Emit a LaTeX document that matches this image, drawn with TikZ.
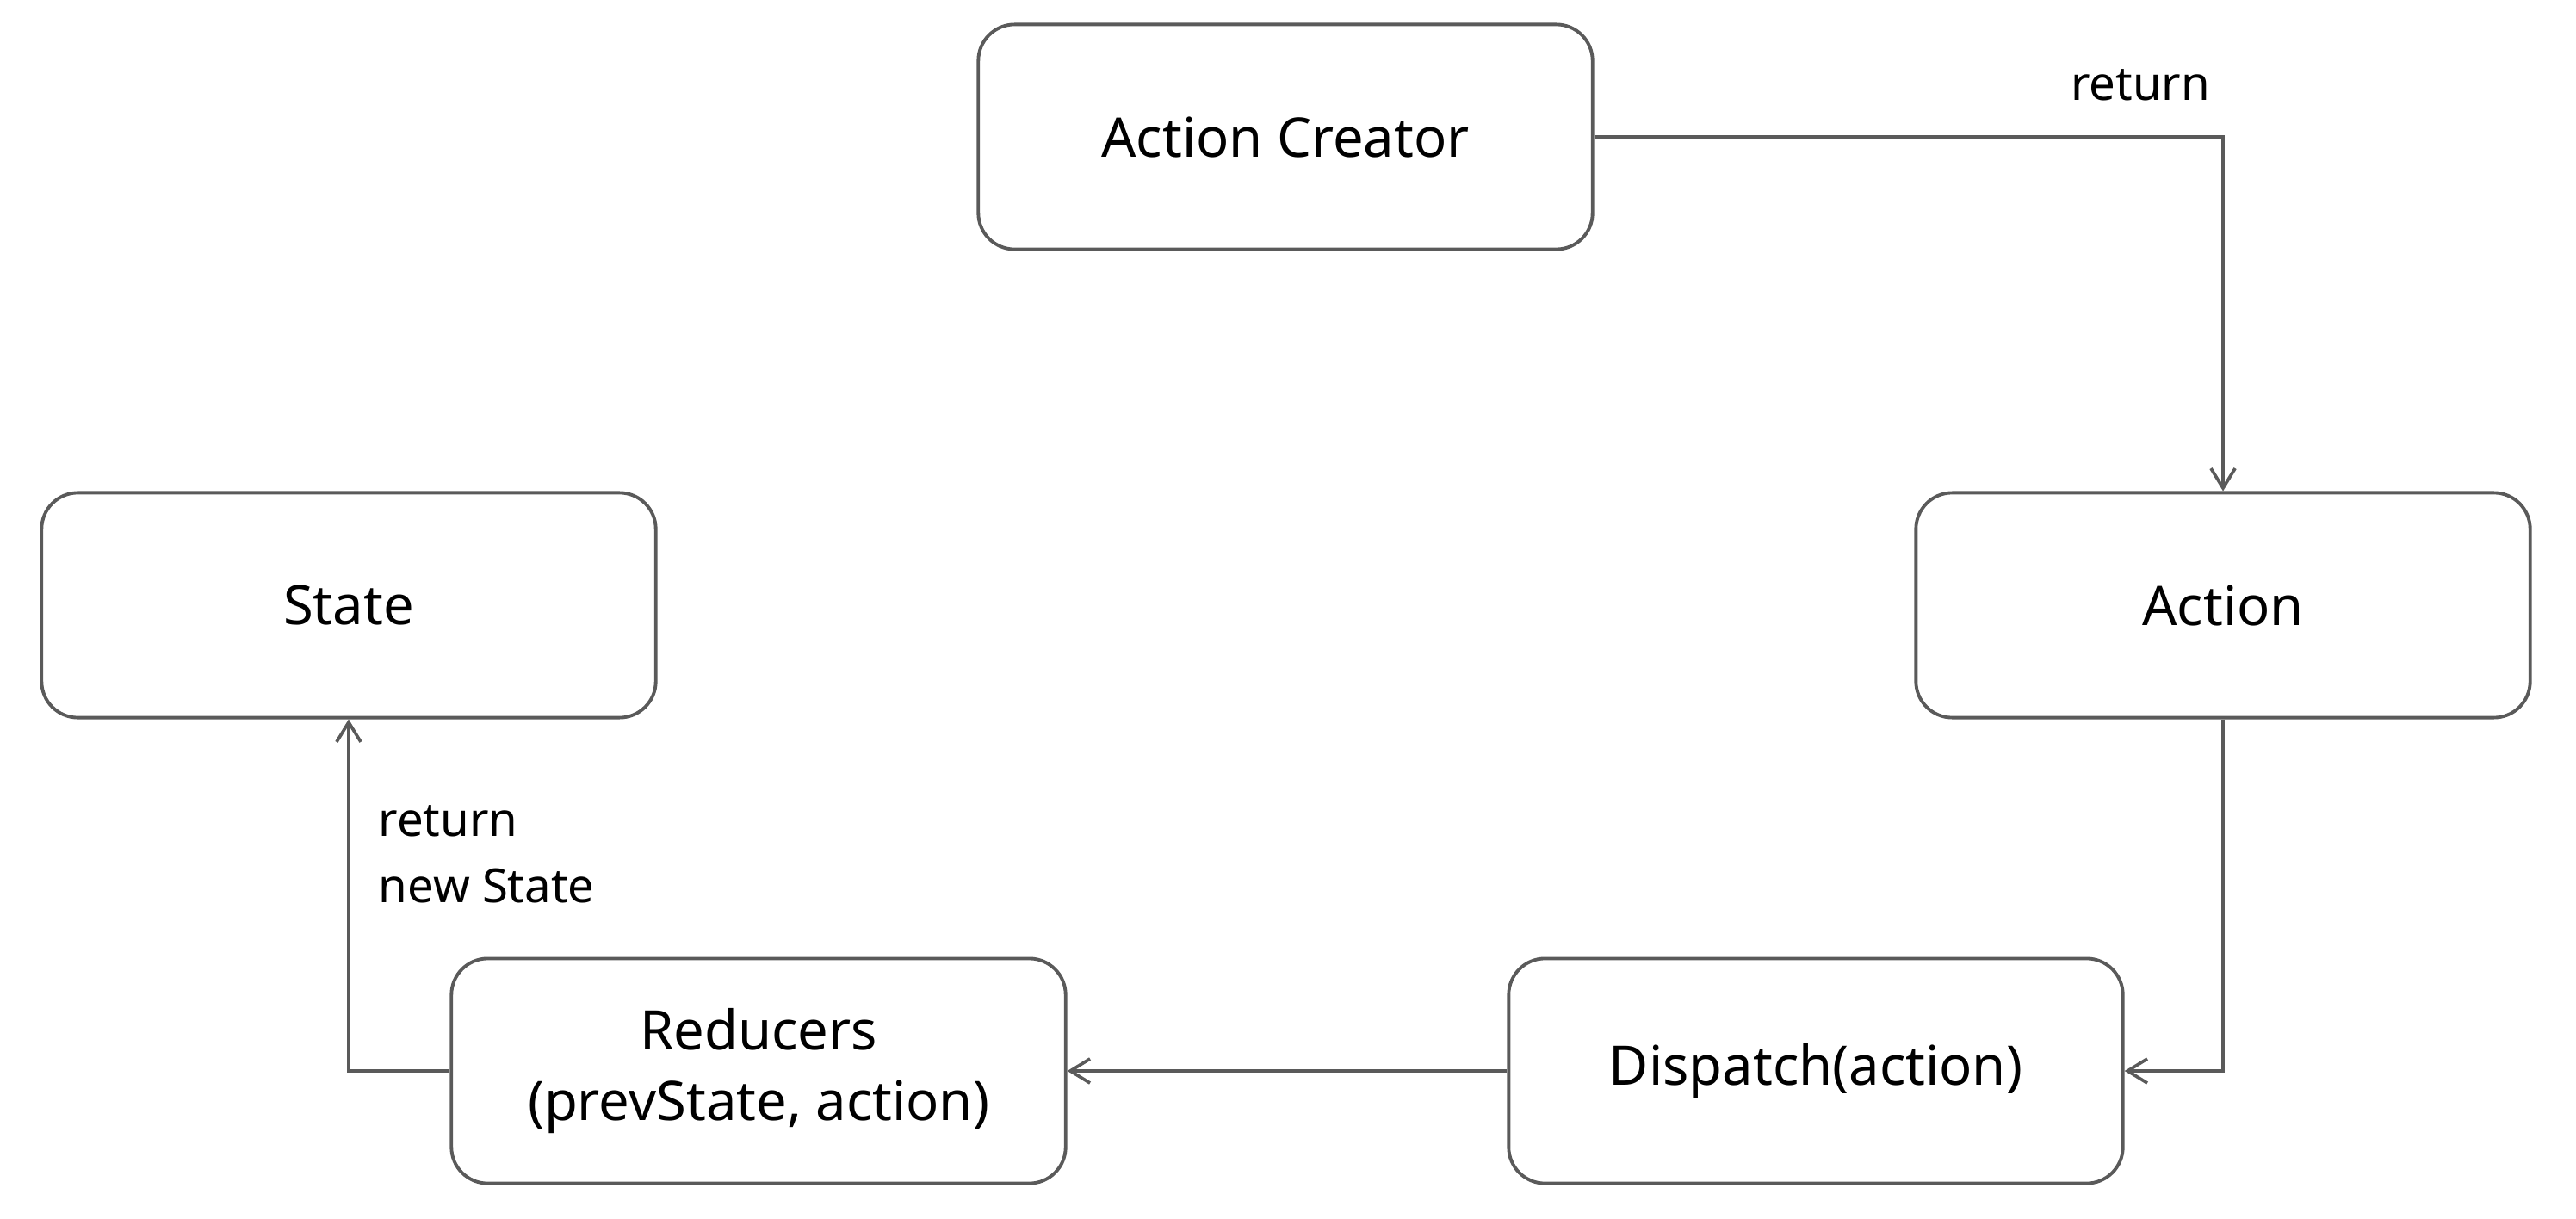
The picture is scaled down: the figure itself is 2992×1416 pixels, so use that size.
\documentclass[tikz,border=0pt]{standalone}
\usepackage{fontspec}
\setmainfont{Noto Sans}
\usetikzlibrary{arrows.meta}
\definecolor{linegray}{HTML}{5A5A5A}
\tikzset{
  box/.style={draw=linegray, line width=1.1pt, rounded corners=12pt,
    minimum width=7.13cm, minimum height=2.61cm, inner sep=0pt,
    align=center, font=\fontsize{18}{23.4}\selectfont},
  conn/.style={draw=linegray, line width=1.05pt,
    -{Straight Barb[length=6.5pt,width=8pt,line width=1.05pt]}},
  lbl/.style={font=\fontsize{15.5}{22}\selectfont, inner sep=0pt}
}
\begin{document}
\begin{tikzpicture}[x=0.01cm,y=-0.01cm]
\useasboundingbox (0,0) rectangle (2992,1416);
\node[box] (creator) at (1493,159) {Action Creator};
\node[box] (state) at (405,703) {State};
\node[box] (action) at (2582,703) {Action};
\node[box] (reducers) at (881,1244) {Reducers\\(prevState, action)};
\node[box] (dispatch) at (2109,1244) {Dispatch(action)};

\draw[conn] (creator.east) -| (action.north);
\draw[conn] (action.south) |- (dispatch.east);
\draw[conn] (dispatch.west) -- (reducers.east);
\draw[conn] (reducers.west) -| (state.south);

\node[lbl] (lblreturn) at (2486,99) {return};
\node[lbl, align=left, anchor=west] (lblnew) at (439,992) {return\\new State};
\end{tikzpicture}
\end{document}
